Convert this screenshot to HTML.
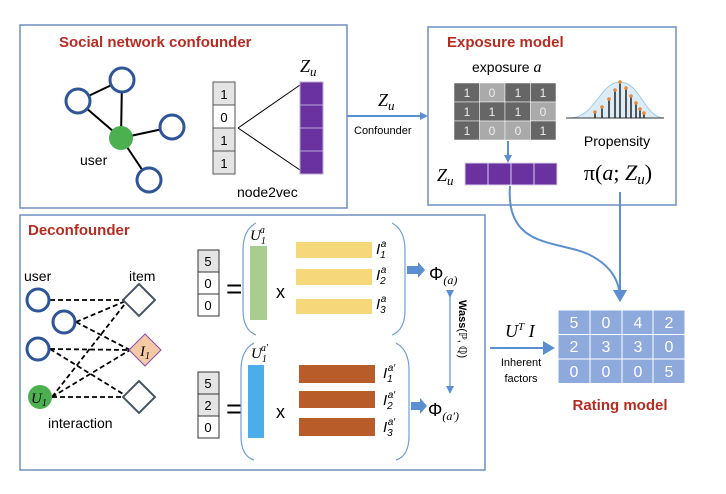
<!DOCTYPE html><html><head><style>body{margin:0;background:#fff}svg{display:block}text{font-family:"Liberation Sans",sans-serif}.m{font-family:"Liberation Serif",serif;font-style:italic}.t{fill:#b52d22;font-weight:bold;font-size:15px}</style></head><body>
<svg width="726" height="494" viewBox="0 0 726 494">
<defs><marker id="ah" markerWidth="8" markerHeight="8" refX="6" refY="4" orient="auto" markerUnits="userSpaceOnUse"><path d="M0,0L8,4L0,8z" fill="#5b8fd0"/></marker>
<marker id="ah2" markerWidth="14" markerHeight="14" refX="10" refY="7" orient="auto" markerUnits="userSpaceOnUse"><path d="M0,0L12,7L0,14z" fill="#5b8fd0"/></marker></defs>
<!-- Box1 -->
<rect x="20" y="25" width="327" height="183" fill="none" stroke="#6f8fbf" stroke-width="1.5"/>
<text x="59" y="47" class="t">Social network confounder</text>
<g stroke="#000" stroke-width="2"><line x1="78" y1="101" x2="122" y2="80"/><line x1="122" y1="80" x2="121" y2="138"/><line x1="78" y1="101" x2="121" y2="138"/><line x1="121" y1="138" x2="172" y2="127"/><line x1="121" y1="138" x2="149" y2="180"/></g>
<g fill="#fff" stroke="#2e5597" stroke-width="3"><circle cx="78" cy="101" r="12"/><circle cx="122" cy="80" r="12"/><circle cx="172" cy="127" r="12"/><circle cx="149" cy="180" r="12"/></g>
<circle cx="121" cy="138" r="12" fill="#4caf50"/>
<text x="80" y="165" font-size="14">user</text>
<g stroke="#555" fill="#e4e4e4"><rect x="213" y="82" width="22" height="23"/><rect x="213" y="105" width="22" height="23" fill="#fff"/><rect x="213" y="128" width="22" height="23"/><rect x="213" y="151" width="22" height="23"/></g>
<g font-size="13" text-anchor="middle"><text x="224" y="99">1</text><text x="224" y="122">0</text><text x="224" y="145">1</text><text x="224" y="168">1</text></g>
<line x1="238" y1="128" x2="300" y2="85" stroke="#000"/><line x1="238" y1="128" x2="300" y2="170" stroke="#000"/>
<g fill="#6a329f" stroke="#b8a8d8" stroke-width="1"><rect x="300" y="82" width="23" height="23"/><rect x="300" y="105" width="23" height="23"/><rect x="300" y="128" width="23" height="23"/><rect x="300" y="151" width="23" height="23"/></g>
<text x="300" y="72" class="m" font-size="18">Z<tspan font-size="13" dy="4">u</tspan></text>
<text x="237" y="197" font-size="14">node2vec</text>
<line x1="347" y1="116" x2="426" y2="116" stroke="#5b8fd0" stroke-width="2" marker-end="url(#ah)"/>
<text x="378" y="106" class="m" font-size="18">Z<tspan font-size="13" dy="4">u</tspan></text>
<text x="354" y="134" font-size="11">Confounder</text>
<!-- Box2 -->
<rect x="428" y="27" width="248" height="178" fill="none" stroke="#6f8fbf" stroke-width="1.5"/>
<text x="447" y="47" class="t">Exposure model</text>
<text x="472" y="72" font-size="14">exposure <tspan class="m" font-size="16">a</tspan></text>
<g stroke="#fff" stroke-width="0.5">
<rect x="454" y="83" width="25.5" height="19" fill="#666"/><rect x="479.5" y="83" width="25.5" height="19" fill="#aaa"/><rect x="505" y="83" width="25.5" height="19" fill="#666"/><rect x="530.5" y="83" width="25.5" height="19" fill="#666"/>
<rect x="454" y="102" width="25.5" height="19" fill="#666"/><rect x="479.5" y="102" width="25.5" height="19" fill="#666"/><rect x="505" y="102" width="25.5" height="19" fill="#666"/><rect x="530.5" y="102" width="25.5" height="19" fill="#aaa"/>
<rect x="454" y="121" width="25.5" height="19" fill="#666"/><rect x="479.5" y="121" width="25.5" height="19" fill="#aaa"/><rect x="505" y="121" width="25.5" height="19" fill="#aaa"/><rect x="530.5" y="121" width="25.5" height="19" fill="#666"/></g>
<g fill="#eee" font-size="12" text-anchor="middle">
<text x="467" y="97">1</text><text x="492" y="97">0</text><text x="518" y="97">1</text><text x="543" y="97">1</text>
<text x="467" y="116">1</text><text x="492" y="116">1</text><text x="518" y="116">1</text><text x="543" y="116">0</text>
<text x="467" y="135">1</text><text x="492" y="135">0</text><text x="518" y="135">0</text><text x="543" y="135">1</text></g>
<path d="M570,118 C595,118 600,82 620,82 C640,82 645,118 664,118Z" fill="#dcecf7" stroke="#9ccbe8"/>
<line x1="566" y1="118" x2="664" y2="118" stroke="#333"/>
<g stroke="#222" stroke-width="1.5"><line x1="595" y1="118" x2="595" y2="112"/><line x1="602" y1="118" x2="602" y2="107"/><line x1="609" y1="118" x2="609" y2="99"/><line x1="615" y1="118" x2="615" y2="90"/><line x1="620" y1="118" x2="620" y2="82"/><line x1="626" y1="118" x2="626" y2="88"/><line x1="631" y1="118" x2="631" y2="96"/><line x1="636" y1="118" x2="636" y2="103"/><line x1="640" y1="118" x2="640" y2="109"/><line x1="644" y1="118" x2="644" y2="113"/></g>
<g fill="#e8893a"><circle cx="595" cy="112" r="1.8"/><circle cx="602" cy="107" r="1.8"/><circle cx="609" cy="99" r="1.8"/><circle cx="615" cy="90" r="1.8"/><circle cx="620" cy="82" r="1.8"/><circle cx="626" cy="88" r="1.8"/><circle cx="631" cy="96" r="1.8"/><circle cx="636" cy="103" r="1.8"/><circle cx="640" cy="109" r="1.8"/><circle cx="644" cy="113" r="1.8"/></g>
<text x="617" y="146" font-size="14" text-anchor="middle">Propensity</text>
<text x="618" y="180" class="m" font-size="22" text-anchor="middle"><tspan font-style="normal">π(</tspan>a<tspan font-style="normal">; </tspan>Z<tspan font-size="15" dy="4">u</tspan><tspan font-style="normal" dy="-4">)</tspan></text>
<line x1="508" y1="141" x2="508" y2="161" stroke="#5b8fd0" stroke-width="2" marker-end="url(#ah)"/>
<g fill="#6a329f" stroke="#d8d0ea"><rect x="465" y="163" width="23" height="22"/><rect x="488" y="163" width="23" height="22"/><rect x="511" y="163" width="23" height="22"/><rect x="534" y="163" width="23" height="22"/></g>
<text x="437" y="181" class="m" font-size="18">Z<tspan font-size="13" dy="4">u</tspan></text>
<path d="M510,186 C505,250 560,240 590,255 C615,268 620,285 620,300" fill="none" stroke="#5b8fd0" stroke-width="2" marker-end="url(#ah2)"/>
<line x1="620" y1="192" x2="620" y2="300" stroke="#5b8fd0" stroke-width="2" marker-end="url(#ah2)"/>
<!-- Box3 -->
<rect x="20" y="215" width="465" height="255" fill="none" stroke="#6f8fbf" stroke-width="1.5"/>
<text x="28" y="235" class="t">Deconfounder</text>
<text x="24" y="281" font-size="14">user</text><text x="129" y="281" font-size="14">item</text>
<g stroke="#000" stroke-width="1.8" stroke-dasharray="5,3" fill="none">
<line x1="50" y1="300" x2="128" y2="300"/><line x1="76" y1="322" x2="128" y2="300"/><line x1="76" y1="322" x2="130" y2="350"/><line x1="50" y1="349" x2="130" y2="350"/><line x1="50" y1="349" x2="128" y2="397"/><line x1="52" y1="397" x2="128" y2="300"/><line x1="52" y1="397" x2="130" y2="350"/><line x1="52" y1="397" x2="128" y2="397"/></g>
<g fill="#fff" stroke="#2e5597" stroke-width="3"><circle cx="38" cy="300" r="11"/><circle cx="64" cy="322" r="11"/><circle cx="38" cy="349" r="11"/></g>
<circle cx="40" cy="397" r="12" fill="#4caf50"/>
<text x="31" y="403" class="m" font-size="15">U<tspan font-size="10" dy="3">1</tspan></text>
<g stroke="#445566" stroke-width="2" fill="#fff"><path d="M139,284L155,300L139,316L123,300Z"/><path d="M139,381L155,397L139,413L123,397Z"/></g>
<path d="M145,334L161,350L145,366L129,350Z" fill="#f4c9a6" stroke="#8a4bb0" stroke-width="1"/>
<text x="140" y="356" class="m" font-size="15">I<tspan font-size="10" dy="3">1</tspan></text>
<text x="48" y="428" font-size="14">interaction</text>
<g stroke="#333" fill="#e4e4e4"><rect x="198" y="250" width="21" height="22"/><rect x="198" y="272" width="21" height="22" fill="#fff"/><rect x="198" y="294" width="21" height="22" fill="#fff"/>
<rect x="198" y="372" width="21" height="22"/><rect x="198" y="394" width="21" height="22"/><rect x="198" y="416" width="21" height="22" fill="#fff"/></g>
<g font-size="13" text-anchor="middle"><text x="208" y="266">5</text><text x="208" y="288">0</text><text x="208" y="310">0</text><text x="208" y="388">5</text><text x="208" y="410">2</text><text x="208" y="432">0</text></g>
<text x="226" y="298" font-size="28">=</text><text x="226" y="418" font-size="28">=</text>
<g fill="none" stroke="#6f9fd8" stroke-width="1.2"><path d="M256,223 Q243,230 243,250 L243,310 Q243,330 256,335"/><path d="M392,223 Q405,230 405,250 L405,310 Q405,330 392,335"/>
<path d="M254,343 Q241,350 241,370 L241,436 Q241,456 254,460"/><path d="M396,343 Q409,350 409,370 L409,436 Q409,456 396,460"/></g>
<rect x="250" y="246" width="17" height="74" fill="#a9cd8f"/>
<rect x="248" y="365" width="16" height="73" fill="#4badea"/>
<text x="276" y="298" font-size="18">x</text><text x="276" y="418" font-size="18">x</text>
<g fill="#f6d77a"><rect x="296" y="242" width="76" height="16"/><rect x="296" y="269" width="76" height="16"/><rect x="296" y="299" width="76" height="15"/></g>
<g fill="#b85c29"><rect x="299" y="365" width="76" height="18"/><rect x="299" y="391" width="76" height="17"/><rect x="299" y="418" width="76" height="18"/></g>
<text x="250" y="240" class="m" font-size="15">U<tspan font-size="10" dy="4">1</tspan><tspan font-size="10" dx="-6" dy="-11">a</tspan></text>
<text x="251" y="358" class="m" font-size="15">U<tspan font-size="10" dy="4">1</tspan><tspan font-size="10" dx="-6" dy="-11">a′</tspan></text>
<g class="m" font-size="15"><text x="376" y="254">I<tspan font-size="10" dy="4">1</tspan><tspan font-size="10" dx="-5" dy="-11">a</tspan></text>
<text x="376" y="280">I<tspan font-size="10" dy="4">2</tspan><tspan font-size="10" dx="-5" dy="-11">a</tspan></text>
<text x="376" y="309">I<tspan font-size="10" dy="4">3</tspan><tspan font-size="10" dx="-5" dy="-11">a</tspan></text>
<text x="383" y="378">I<tspan font-size="10" dy="4">1</tspan><tspan font-size="10" dx="-5" dy="-11">a′</tspan></text>
<text x="383" y="405">I<tspan font-size="10" dy="4">2</tspan><tspan font-size="10" dx="-5" dy="-11">a′</tspan></text>
<text x="383" y="432">I<tspan font-size="10" dy="4">3</tspan><tspan font-size="10" dx="-5" dy="-11">a′</tspan></text></g>
<path d="M407,266L418,266L418,262L425,270L418,278L418,274L407,274Z" fill="#5b8fd0"/>
<path d="M411,402L420,402L420,398L427,406L420,414L420,410L411,410Z" fill="#5b8fd0"/>
<text x="429" y="280" font-family="Liberation Serif" font-size="18">Φ<tspan class="m" font-size="12" dy="4">(a)</tspan></text>
<text x="428" y="416" font-family="Liberation Serif" font-size="18">Φ<tspan class="m" font-size="12" dy="4">(a′)</tspan></text>
<line x1="450" y1="296" x2="450" y2="392" stroke="#5b8fd0" stroke-width="1.2" marker-end="url(#ah)" marker-start="url(#ah)"/>
<text transform="translate(459,300) rotate(90)" font-family="Liberation Serif" font-size="11"><tspan font-weight="bold">Wass</tspan>(ℙ, ℚ)</text>
<line x1="490" y1="348" x2="553" y2="348" stroke="#5b8fd0" stroke-width="2" marker-end="url(#ah2)"/>
<text x="505" y="337" class="m" font-size="18">U<tspan font-size="11" dy="-7">T</tspan><tspan dy="7"> I</tspan></text>
<text x="521" y="366" font-size="11" text-anchor="middle">Inherent</text><text x="521" y="382" font-size="11" text-anchor="middle">factors</text>
<g fill="#8ea9db" stroke="#fff"><rect x="558" y="310" width="32" height="24.5"/><rect x="590" y="310" width="32" height="24.5"/><rect x="622" y="310" width="31" height="24.5"/><rect x="653" y="310" width="32" height="24.5"/>
<rect x="558" y="334.5" width="32" height="24.5"/><rect x="590" y="334.5" width="32" height="24.5"/><rect x="622" y="334.5" width="31" height="24.5"/><rect x="653" y="334.5" width="32" height="24.5"/>
<rect x="558" y="359" width="32" height="24.5"/><rect x="590" y="359" width="32" height="24.5"/><rect x="622" y="359" width="31" height="24.5"/><rect x="653" y="359" width="32" height="24.5"/></g>
<g fill="#fff" font-size="16" text-anchor="middle"><text x="574" y="328">5</text><text x="606" y="328">0</text><text x="638" y="328">4</text><text x="669" y="328">2</text>
<text x="574" y="352">2</text><text x="606" y="352">3</text><text x="638" y="352">3</text><text x="669" y="352">0</text>
<text x="574" y="377">0</text><text x="606" y="377">0</text><text x="638" y="377">0</text><text x="669" y="377">5</text></g>
<text x="620" y="410" class="t" text-anchor="middle">Rating model</text>
</svg></body></html>
